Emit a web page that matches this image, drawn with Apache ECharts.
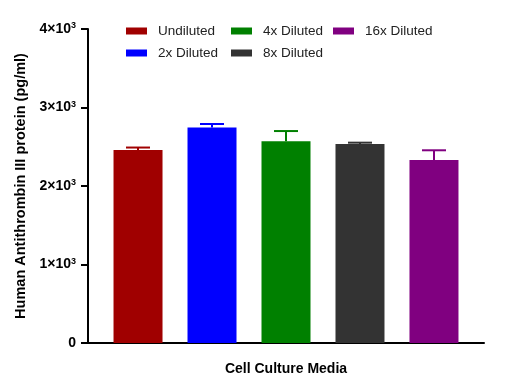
<!DOCTYPE html>
<html><head><meta charset="utf-8">
<script src="https://cdn.jsdelivr.net/npm/echarts@6/dist/echarts.min.js"></script>
<style>html,body{margin:0;padding:0;background:#fff}#c{width:528px;height:389px}</style>
</head><body><div id="c"></div>
<script>
const categories = ['Cell Culture Media'];
const seriesNames = ['Undiluted', '2x Diluted', '4x Diluted', '8x Diluted', '16x Diluted'];
const means = [2460, 2745, 2570, 2535, 2330];
const errUpper = [2490, 2790, 2700, 2552, 2455];
const colors = ['#A00000', '#0000FF', '#008000', '#333333', '#800080'];
const yTicks = [0, 1000, 2000, 3000, 4000];

const BAR_W = 49, STEP = 74, CAP = 24;
const font = 'Liberation Sans, Arial, sans-serif';

const series = [];
seriesNames.forEach((n, i) => {
  series.push({
    name: n, type: 'bar', data: [means[i]], barWidth: BAR_W, barGap: '51%',
    itemStyle: { color: colors[i] }, z: 2
  });
});
seriesNames.forEach((n, i) => {
  series.push({
    type: 'custom', name: n + ' err', z: 3,
    data: [[0, means[i], errUpper[i]]],
    renderItem: function (params, api) {
      const base = api.coord([0, api.value(1)]);
      const top = api.coord([0, api.value(2)]);
      const cx = base[0] + (i - 2) * STEP;
      return { type: 'group', children: [
        { type: 'line', shape: { x1: cx, y1: base[1], x2: cx, y2: top[1] }, style: { stroke: colors[i], lineWidth: 2 } },
        { type: 'line', shape: { x1: cx - CAP / 2, y1: top[1], x2: cx + CAP / 2, y2: top[1] }, style: { stroke: colors[i], lineWidth: 2 } }
      ]};
    }
  });
});

function legendFor(names, left) {
  return {
    left: left, top: 24, orient: 'vertical', itemGap: 8, padding: 0,
    itemWidth: 21, itemHeight: 7, icon: 'rect',
    data: names, textStyle: { fontFamily: font, fontSize: 13.5, color: '#222', padding: [0, 0, 0, 6] }
  };
}

const chart = echarts.init(document.getElementById('c'));
chart.setOption({
  animation: false,
  color: colors,
  legend: [legendFor([seriesNames[0], seriesNames[1]], 126), legendFor([seriesNames[2], seriesNames[3]], 231), legendFor([seriesNames[4]], 333)],
  grid: { left: 88, right: 44, top: 29, bottom: 46 },
  xAxis: {
    type: 'category', data: categories,
    name: categories[0], nameLocation: 'middle', nameGap: 19,
    nameTextStyle: { fontFamily: font, fontSize: 14, fontWeight: 'bold', color: '#000' },
    axisLine: { lineStyle: { color: '#000', width: 2 } },
    axisTick: { alignWithLabel: true, length: 6, lineStyle: { color: '#000', width: 2 } },
    axisLabel: { show: false }
  },
  yAxis: {
    type: 'value', min: 0, max: 4000, interval: 1000,
    name: 'Human Antithrombin III protein (pg/ml)', nameLocation: 'middle', nameGap: 58,
    nameTextStyle: { fontFamily: font, fontSize: 14.5, fontWeight: 'bold', color: '#000' },
    axisLine: { show: true, lineStyle: { color: '#000', width: 2 } },
    axisTick: { show: true, length: 7, lineStyle: { color: '#000', width: 2 } },
    splitLine: { show: false },
    axisLabel: {
      margin: 12,
      formatter: function (v) {
        if (yTicks.indexOf(v) < 0) return '';
        if (v === 0) return '{a|0}';
        return '{a|' + (v / 1000) + '×10}{s|3}';
      },
      rich: {
        a: { fontFamily: font, fontSize: 14, fontWeight: 'bold', color: '#000' },
        s: { fontFamily: font, fontSize: 9, fontWeight: 'bold', color: '#000', padding: [0, 0, 6, 0] }
      }
    }
  },
  series: series
});
</script></body></html>
